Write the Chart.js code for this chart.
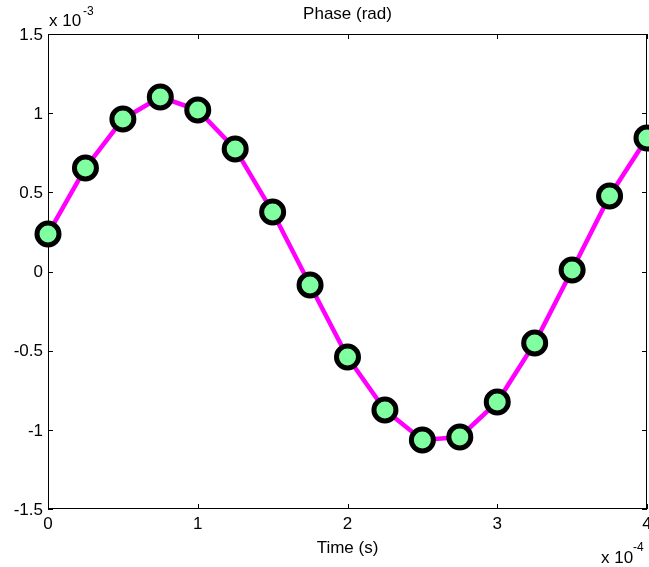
<!DOCTYPE html>
<html>
<head>
<meta charset="utf-8">
<script src="https://cdn.jsdelivr.net/npm/chart.js@4/dist/chart.umd.min.js"></script>
<style>
  html, body { margin:0; padding:0; background:#fff; overflow:hidden; }
  #chartPhase { display:block; }
</style>
</head>
<body>
<canvas id="chartPhase" width="649" height="567"></canvas>
<script>
/* ===============================
  Phase (rad) vs Time (s)
================================ */
// time in units of 1e-4 s, phase in units of 1e-3 rad
const timeVals  = [0, 0.25, 0.5, 0.75, 1, 1.25, 1.5, 1.75, 2, 2.25, 2.5, 2.75, 3, 3.25, 3.5, 3.75, 4];
const phaseVals = [0.237, 0.654, 0.963, 1.102, 1.020, 0.774, 0.376, -0.085, -0.540, -0.875, -1.064, -1.045, -0.824, -0.452, 0.009, 0.477, 0.843];
const xTicks = [0, 1, 2, 3, 4];
const yTicks = [-1.5, -1, -0.5, 0, 0.5, 1, 1.5];

const FONT = '"Liberation Sans", Arial, sans-serif';

const matlabAxes = {
    id:'matlabAxes',
    beforeDatasetsDraw(chart){
        const {ctx, chartArea:a, scales:{x, y}} = chart;
        ctx.save();
        ctx.strokeStyle = '#000';
        ctx.lineWidth = 1;
        ctx.strokeRect(a.left + 0.5, a.top + 0.5, a.right - a.left - 1, a.bottom - a.top - 1);
        ctx.beginPath();
        xTicks.forEach(v => {
            const px = Math.round(x.getPixelForValue(v)) + 0.5;
            ctx.moveTo(px, a.bottom); ctx.lineTo(px, a.bottom - 5);
            ctx.moveTo(px, a.top);    ctx.lineTo(px, a.top + 5);
        });
        yTicks.forEach(v => {
            const py = Math.round(y.getPixelForValue(v)) + 0.5;
            ctx.moveTo(a.left, py);  ctx.lineTo(a.left + 5, py);
            ctx.moveTo(a.right, py); ctx.lineTo(a.right - 5, py);
        });
        ctx.stroke();
        ctx.restore();
    },
    afterDraw(chart){
        const {ctx, chartArea:a, scales:{x, y}} = chart;
        const midX = (a.left + a.right) / 2;
        ctx.save();
        ctx.fillStyle = '#000';
        ctx.font = '17px ' + FONT;

        // tick labels
        ctx.textAlign = 'right'; ctx.textBaseline = 'middle';
        yTicks.forEach(v => ctx.fillText(String(v), a.left - 5, y.getPixelForValue(v) + 1));
        ctx.textAlign = 'center'; ctx.textBaseline = 'alphabetic';
        xTicks.forEach(v => ctx.fillText(String(v), x.getPixelForValue(v), a.bottom + 20));

        // title & axis label
        ctx.fillText('Phase (rad)', midX, 19);
        ctx.fillText('Time (s)', midX, 553);

        // exponent labels
        ctx.textAlign = 'left';
        ctx.fillText('x 10', 49, 26);
        ctx.fillText('x 10', 601, 563);
        ctx.font = '12px ' + FONT;
        ctx.fillText('-3', 83, 15);
        ctx.fillText('-4', 633, 551);
        ctx.restore();
    }
};

new Chart(document.getElementById('chartPhase'),{
    type:'line',
    data:{
        datasets:[{
            data:timeVals.map((t, i) => ({x:t, y:phaseVals[i]})),
            borderColor:'#ff00ff',
            borderWidth:4.5,
            tension:0,
            pointRadius:11,
            pointBorderWidth:5,
            pointBorderColor:'#000',
            pointBackgroundColor:'rgb(128,255,160)',
            pointHoverRadius:11,
            clip:false
        }]
    },
    options:{
        responsive:false,
        animation:false,
        events:[],
        layout:{autoPadding:false, padding:{left:48, right:2, top:34, bottom:58}},
        plugins:{legend:{display:false}, tooltip:{enabled:false}},
        scales:{
            x:{type:'linear', min:0, max:4, display:false},
            y:{type:'linear', min:-1.5, max:1.5, display:false}
        }
    },
    plugins:[matlabAxes]
});
</script>
</body>
</html>
